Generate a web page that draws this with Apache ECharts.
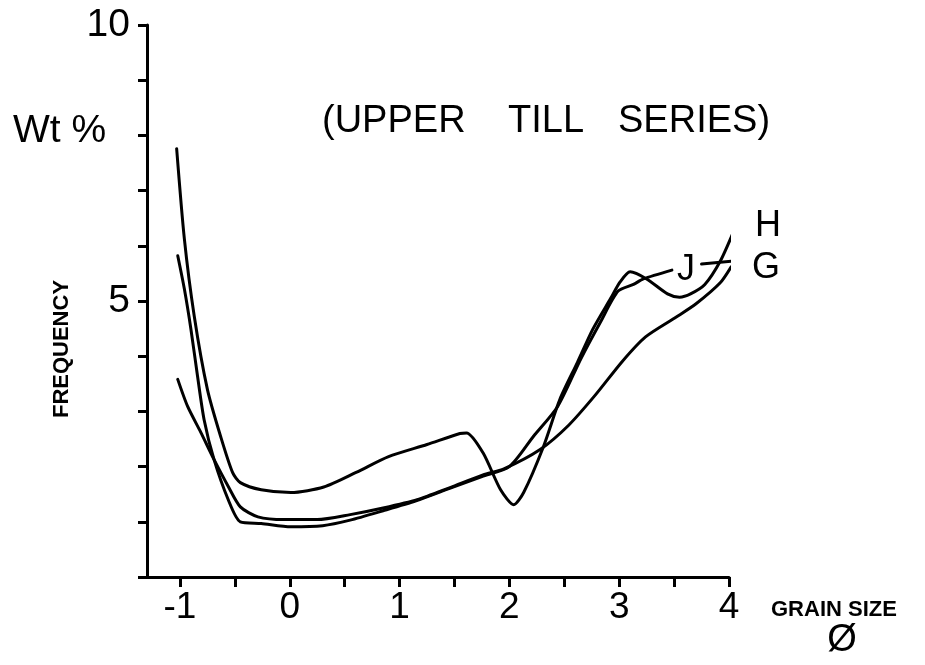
<!DOCTYPE html>
<html>
<head>
<meta charset="utf-8">
<script src="https://cdn.jsdelivr.net/npm/echarts@6/dist/echarts.min.js"></script>
<style>html,body{margin:0;padding:0;background:#fff}#c{width:925px;height:665px}</style>
</head>
<body>
<div id="c"></div>
<script>
// Grain size (phi) vs frequency (Wt %)
const xTicks = [-1, -0.5, 0, 0.5, 1, 1.5, 2, 2.5, 3, 3.5, 4];
const xLabels = [-1, 0, 1, 2, 3, 4];
const yLabels = [5, 10];

const seriesH = [
  [-1.03, 7.76], [-0.96, 6.13], [-0.87, 4.73], [-0.75, 3.40], [-0.63, 2.55],
  [-0.52, 1.89], [-0.45, 1.71], [-0.26, 1.58], [0.01, 1.53], [0.31, 1.63],
  [0.61, 1.90], [0.90, 2.18], [1.25, 2.40], [1.55, 2.60], [1.61, 2.61],
  [1.76, 2.25], [1.92, 1.58], [2.04, 1.31], [2.13, 1.53], [2.31, 2.36],
  [2.46, 3.22], [2.62, 3.89], [2.76, 4.49], [2.92, 5.04], [3.01, 5.35],
  [3.10, 5.53], [3.25, 5.40], [3.44, 5.13], [3.55, 5.07], [3.65, 5.13],
  [3.78, 5.30], [3.92, 5.72], [4.04, 6.25]
];
const seriesJ = [
  [-1.02, 5.82], [-0.96, 5.22], [-0.90, 4.49], [-0.84, 3.64], [-0.78, 2.85],
  [-0.69, 2.13], [-0.56, 1.40], [-0.45, 1.00], [-0.26, 0.97], [0.01, 0.91],
  [0.30, 0.93], [0.55, 1.03], [0.85, 1.20], [1.15, 1.38], [1.45, 1.60],
  [1.75, 1.82], [2.00, 2.00], [2.22, 2.55], [2.44, 3.09], [2.65, 3.95],
  [2.83, 4.62], [2.99, 5.18], [3.13, 5.30], [3.22, 5.40], [3.48, 5.56]
];
const seriesG = [
  [-1.02, 3.58], [-0.93, 3.09], [-0.81, 2.62], [-0.69, 2.13], [-0.56, 1.64],
  [-0.45, 1.27], [-0.29, 1.09], [-0.05, 1.04], [0.25, 1.04], [0.55, 1.13],
  [0.85, 1.25], [1.16, 1.40], [1.46, 1.62], [1.76, 1.85], [1.95, 1.96],
  [2.28, 2.31], [2.54, 2.75], [2.78, 3.29], [3.03, 3.91], [3.24, 4.35],
  [3.52, 4.71], [3.70, 4.95], [3.92, 5.33], [4.02, 5.62]
];
const gLeader = [[3.75, 5.67], [4.07, 5.73]];

const FONT = 'Liberation Sans';
const chart = echarts.init(document.getElementById('c'), null, {renderer: 'canvas'});
const lineStyle = {color: '#000', width: 3, cap: 'round', join: 'round'};
function mkSeries(name, data, smooth) {
  return {
    name, type: 'line', data, smooth: smooth, showSymbol: false, clip: false,
    lineStyle, animation: false, silent: true
  };
}
function txt(text, x, y, size, opts) {
  return {type: 'text', x, y, style: Object.assign({
    text, font: size + 'px ' + FONT, fill: '#000', align: 'left', verticalAlign: 'middle'
  }, opts || {})};
}
chart.setOption({
  animation: false,
  backgroundColor: '#fff',
  grid: {left: 147, right: 196, top: 25, bottom: 88, containLabel: false},
  xAxis: {
    type: 'value', min: -1.3, max: 4,
    axisLine: {show: true, onZero: false, lineStyle: {color: '#000', width: 3}},
    axisTick: {show: true, customValues: xTicks, length: 10, lineStyle: {color: '#000', width: 3}},
    axisLabel: {
      customValues: xLabels, color: '#000', fontFamily: FONT, fontSize: 37, margin: 12,
      formatter: v => (v < 0 ? '-' + Math.abs(v) : String(v))
    },
    splitLine: {show: false}
  },
  yAxis: {
    type: 'value', min: 0, max: 10, interval: 1,
    axisLine: {show: true, onZero: false, lineStyle: {color: '#000', width: 3}},
    axisTick: {show: true, length: 9, lineStyle: {color: '#000', width: 3}},
    axisLabel: {
      color: '#000', fontFamily: FONT, fontSize: 39, margin: 17,
      padding: [10, 0, 0, 0],
      formatter: v => (yLabels.indexOf(v) >= 0 ? String(v) : '')
    },
    splitLine: {show: false}
  },
  graphic: [
    txt('Wt %', 13, 131, 39),
    txt('(UPPER', 322, 122, 38),
    txt('TILL', 508, 122, 38),
    txt('SERIES)', 618, 122, 38),
    {type: 'text', x: 62, y: 349, rotation: Math.PI / 2, style: {text: 'FREQUENCY', font: 'bold 22px ' + FONT, fill: '#000', align: 'center', verticalAlign: 'middle'}},
    txt('GRAIN SIZE', 771, 610, 22, {font: 'bold 22px ' + FONT}),
    txt('Ø', 842, 641, 38, {align: 'center'}),
    txt('H', 768, 226, 36, {align: 'center'}),
    txt('J', 686, 270, 36, {align: 'center'}),
    txt('G', 766, 268, 36, {align: 'center'})
  ],
  series: [
    mkSeries('H', seriesH, 0.25),
    mkSeries('J', seriesJ, 0.25),
    mkSeries('G', seriesG, 0.25),
    mkSeries('G leader', gLeader, false)
  ]
});
</script>
</body>
</html>
